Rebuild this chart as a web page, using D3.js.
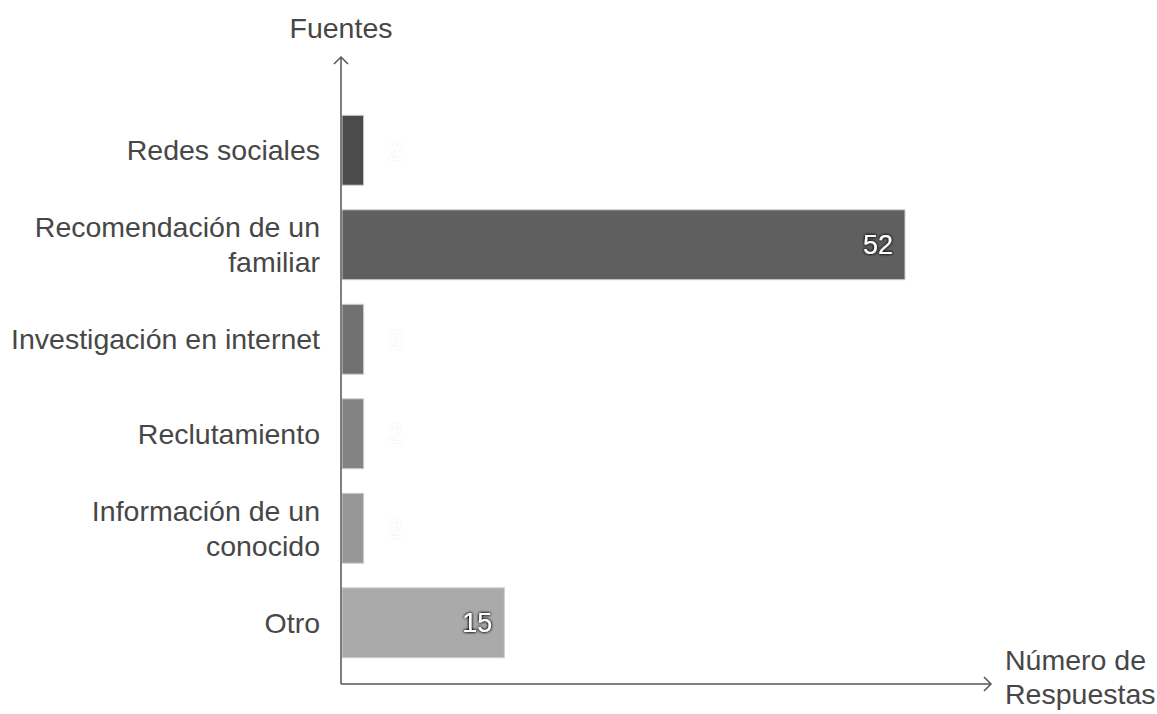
<!DOCTYPE html>
<html>
<head>
<meta charset="utf-8">
<script src="https://cdn.jsdelivr.net/npm/d3@7"></script>
<style>
  html, body { margin: 0; padding: 0; background: #fff; }
  svg { display: block; font-family: "Liberation Sans", Arial, sans-serif; }
</style>
</head>
<body>
<svg id="chart" width="1157" height="714"></svg>
<script>
// Data
const categories = ["Redes sociales", "Recomendación de un familiar", "Investigación en internet", "Reclutamiento", "Información de un conocido", "Otro"];
const values = [2, 52, 2, 2, 2, 15];
const barColors = ["#4b4b4b", "#5f5f5f", "#717171", "#838383", "#979797", "#aaaaaa"];
const yAxisTitle = "Fuentes";
const xAxisTitle = ["Número de", "Respuestas"];

const svg = d3.select("#chart");
const axisX0 = 341, axisYBottom = 684, axisYTop = 57, axisXRight = 991;
const fontSize = 28.5;

const x = d3.scaleLinear().domain([0, 52]).range([342, 905]);
const y = d3.scaleBand().domain(categories).range([103, 670]).paddingInner(0.26).paddingOuter(0.13);

const defs = svg.append("defs");
function halo(id, color, sd, slope) {
  const f = defs.append("filter").attr("id", id).attr("x", "-30%").attr("y", "-30%").attr("width", "160%").attr("height", "160%");
  f.append("feGaussianBlur").attr("in", "SourceAlpha").attr("stdDeviation", sd).attr("result", "b");
  const ct = f.append("feComponentTransfer").attr("in", "b").attr("result", "b2");
  ct.append("feFuncA").attr("type", "linear").attr("slope", slope);
  f.append("feFlood").attr("flood-color", color).attr("result", "c");
  f.append("feComposite").attr("in", "c").attr("in2", "b2").attr("operator", "in").attr("result", "s");
  const m = f.append("feMerge");
  m.append("feMergeNode").attr("in", "s");
  m.append("feMergeNode").attr("in", "SourceGraphic");
}
halo("haloDark", "#111", 1.8, 1.8);
halo("haloLight", "#bbb", 1.2, 0.3);

// Bars
svg.append("g").selectAll("rect").data(categories).join("rect")
  .attr("x", x(0))
  .attr("y", d => y(d))
  .attr("width", (d, i) => x(values[i]) - x(0))
  .attr("height", y.bandwidth())
  .attr("fill", (d, i) => barColors[i])
  .attr("stroke", "#cfcfcf")
  .attr("stroke-width", 1);

// Value labels
const inside = i => (x(values[i]) - x(0) > 60);
svg.append("g").selectAll("text").data(categories).join("text")
  .attr("x", (d, i) => inside(i) ? x(values[i]) - 12 : x(values[i]) + 24)
  .attr("y", d => y(d) + y.bandwidth() / 2)
  .attr("dy", "0.35em")
  .attr("text-anchor", (d, i) => inside(i) ? "end" : "start")
  .attr("font-size", 27)
  .attr("fill", "#fff")
  .attr("filter", (d, i) => inside(i) ? "url(#haloDark)" : "url(#haloLight)")
  .text((d, i) => values[i]);

// Y axis (category labels)
const yAxis = d3.axisLeft(y).tickSize(0).tickPadding(21);
const gy = svg.append("g").attr("transform", `translate(${axisX0},0)`).call(yAxis);
gy.select(".domain").remove();
gy.selectAll(".tick text")
  .attr("font-size", fontSize)
  .attr("font-family", "\"Liberation Sans\", Arial, sans-serif")
  .attr("fill", "#474747")
  .each(function(d) {
    const t = d3.select(this);
    const words = d.split(" ");
    const maxW = 318;
    t.text(null);
    const lines = [];
    let cur = [];
    const probe = t.append("tspan");
    words.forEach(w => {
      const test = cur.concat([w]).join(" ");
      probe.text(test);
      if (probe.node().getComputedTextLength() > maxW && cur.length) {
        lines.push(cur.join(" "));
        cur = [w];
      } else cur.push(w);
    });
    lines.push(cur.join(" "));
    probe.remove();
    const lh = 35;
    t.attr("dy", null);
    lines.forEach((ln, k) => {
      t.append("tspan")
        .attr("x", -21)
        .attr("y", 0)
        .attr("dy", (k - (lines.length - 1) / 2) * lh + 10)
        .text(ln);
    });
  });

// Axis lines with arrows
const axisColor = "#555";
svg.append("line").attr("x1", axisX0).attr("x2", axisX0).attr("y1", axisYBottom).attr("y2", axisYTop)
  .attr("stroke", axisColor).attr("stroke-width", 1.5);
svg.append("line").attr("x1", axisX0).attr("x2", axisXRight).attr("y1", axisYBottom).attr("y2", axisYBottom)
  .attr("stroke", axisColor).attr("stroke-width", 1.5);
svg.append("path").attr("d", `M${axisX0 - 7},${axisYTop + 7}L${axisX0},${axisYTop}L${axisX0 + 7},${axisYTop + 7}`)
  .attr("fill", "none").attr("stroke", axisColor).attr("stroke-width", 1.5);
svg.append("path").attr("d", `M${axisXRight - 7},${axisYBottom - 7}L${axisXRight},${axisYBottom}L${axisXRight - 7},${axisYBottom + 7}`)
  .attr("fill", "none").attr("stroke", axisColor).attr("stroke-width", 1.5);

// Axis titles
svg.append("text").attr("x", axisX0).attr("y", 38).attr("text-anchor", "middle")
  .attr("font-size", fontSize).attr("fill", "#474747").text(yAxisTitle);
const xt = svg.append("text").attr("font-size", fontSize).attr("fill", "#474747");
xAxisTitle.forEach((ln, k) => {
  xt.append("tspan").attr("x", 1005).attr("y", 670 + k * 34).text(ln);
});
</script>
</body>
</html>
